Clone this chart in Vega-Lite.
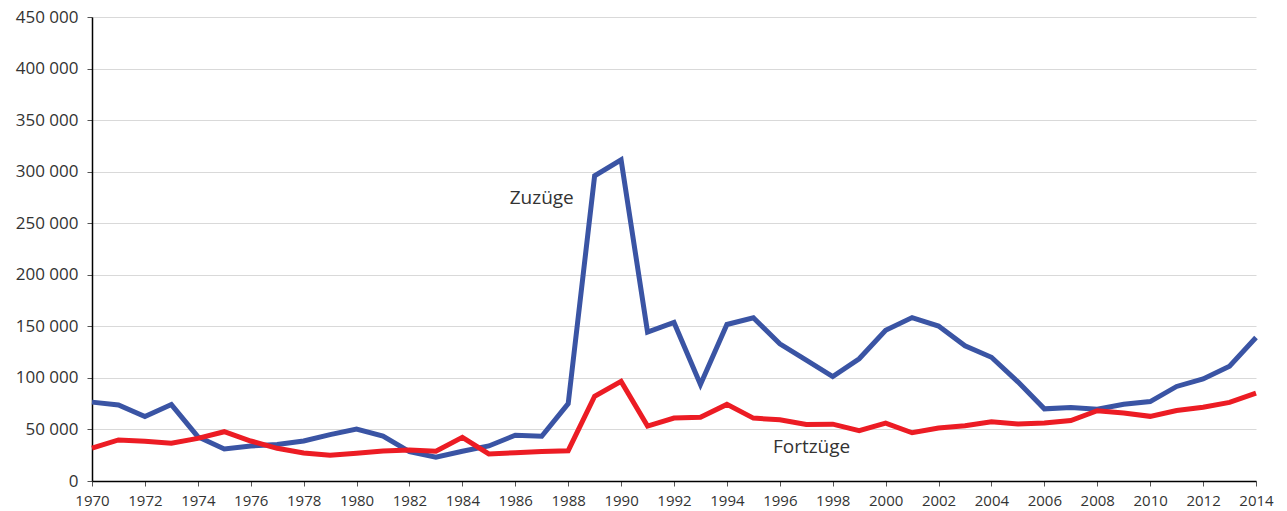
{
  "$schema": "https://vega.github.io/schema/vega-lite/v6.json",
  "autosize": "none",
  "width": 1164,
  "height": 464,
  "padding": {"left": 92, "top": 17, "right": 31, "bottom": 30},
  "background": "white",
  "config": {
    "view": {"stroke": null},
    "font": "Open Sans"
  },
  "datasets": {
    "series": [
      {"year":1970,"Zuzüge":76500,"Fortzüge":31800},
      {"year":1971,"Zuzüge":73800,"Fortzüge":39800},
      {"year":1972,"Zuzüge":62500,"Fortzüge":38600},
      {"year":1973,"Zuzüge":74100,"Fortzüge":36600},
      {"year":1974,"Zuzüge":43000,"Fortzüge":41300},
      {"year":1975,"Zuzüge":31000,"Fortzüge":47800},
      {"year":1976,"Zuzüge":34000,"Fortzüge":38800},
      {"year":1977,"Zuzüge":35300,"Fortzüge":31700},
      {"year":1978,"Zuzüge":38800,"Fortzüge":27200},
      {"year":1979,"Zuzüge":45000,"Fortzüge":24900},
      {"year":1980,"Zuzüge":50300,"Fortzüge":26900},
      {"year":1981,"Zuzüge":43600,"Fortzüge":29000},
      {"year":1982,"Zuzüge":28500,"Fortzüge":30100},
      {"year":1983,"Zuzüge":23100,"Fortzüge":28800},
      {"year":1984,"Zuzüge":28900,"Fortzüge":42300},
      {"year":1985,"Zuzüge":34000,"Fortzüge":26200},
      {"year":1986,"Zuzüge":44400,"Fortzüge":27500},
      {"year":1987,"Zuzüge":43400,"Fortzüge":28500},
      {"year":1988,"Zuzüge":75000,"Fortzüge":29400},
      {"year":1989,"Zuzüge":296000,"Fortzüge":82200},
      {"year":1990,"Zuzüge":311500,"Fortzüge":96600},
      {"year":1991,"Zuzüge":144300,"Fortzüge":53200},
      {"year":1992,"Zuzüge":153800,"Fortzüge":61000},
      {"year":1993,"Zuzüge":93700,"Fortzüge":61800},
      {"year":1994,"Zuzüge":151800,"Fortzüge":74300},
      {"year":1995,"Zuzüge":158300,"Fortzüge":61000},
      {"year":1996,"Zuzüge":133000,"Fortzüge":59400},
      {"year":1997,"Zuzüge":117300,"Fortzüge":54800},
      {"year":1998,"Zuzüge":101300,"Fortzüge":55100},
      {"year":1999,"Zuzüge":118500,"Fortzüge":48900},
      {"year":2000,"Zuzüge":146200,"Fortzüge":56200},
      {"year":2001,"Zuzüge":158500,"Fortzüge":46800},
      {"year":2002,"Zuzüge":150300,"Fortzüge":51300},
      {"year":2003,"Zuzüge":131200,"Fortzüge":53600},
      {"year":2004,"Zuzüge":120000,"Fortzüge":57500},
      {"year":2005,"Zuzüge":96200,"Fortzüge":55400},
      {"year":2006,"Zuzüge":70000,"Fortzüge":56300},
      {"year":2007,"Zuzüge":71300,"Fortzüge":58700},
      {"year":2008,"Zuzüge":69600,"Fortzüge":68200},
      {"year":2009,"Zuzüge":74400,"Fortzüge":66000},
      {"year":2010,"Zuzüge":77000,"Fortzüge":62700},
      {"year":2011,"Zuzüge":91700,"Fortzüge":68300},
      {"year":2012,"Zuzüge":99000,"Fortzüge":71600},
      {"year":2013,"Zuzüge":111400,"Fortzüge":76200},
      {"year":2014,"Zuzüge":139200,"Fortzüge":85200}
    ],
    "labels": [
      {"year":1987,"value":269000,"label":"Zuzüge","series":"Zuzüge"},
      {"year":1997.2,"value":27500,"label":"Fortzüge","series":"Fortzüge"}
    ]
  },
  "layer": [
    {
      "data": {"name": "series"},
      "transform": [{"fold": ["Zuzüge", "Fortzüge"], "as": ["series", "value"]}],
      "mark": {"type": "line", "strokeWidth": 5, "strokeJoin": "miter", "strokeCap": "butt"},
      "encoding": {
        "x": {
          "field": "year", "type": "quantitative",
          "scale": {"domain": [1970, 2014], "nice": false, "zero": false},
          "axis": {
            "title": null,
            "values": [1970,1971,1972,1973,1974,1975,1976,1977,1978,1979,1980,1981,1982,1983,1984,1985,1986,1987,1988,1989,1990,1991,1992,1993,1994,1995,1996,1997,1998,1999,2000,2001,2002,2003,2004,2005,2006,2007,2008,2009,2010,2011,2012,2013,2014],
            "labelExpr": "datum.value % 2 == 0 ? format(datum.value, 'd') : ''",
            "labelOverlap": false,
            "labelFlush": false,
            "grid": false,
            "domainColor": "#000000",
            "domainWidth": 1.5,
            "tickColor": "#555555",
            "tickSize": 5,
            "tickWidth": 1,
            "labelFontSize": 15,
            "labelColor": "#333333",
            "labelPadding": 7
          }
        },
        "y": {
          "field": "value", "type": "quantitative",
          "scale": {"domain": [0, 450000], "nice": false},
          "axis": {
            "title": null,
            "values": [0,50000,100000,150000,200000,250000,300000,350000,400000,450000],
            "labelExpr": "replace(format(datum.value, ','), ',', ' ')",
            "grid": true,
            "gridColor": "#d9d9d9",
            "gridWidth": 1,
            "domainColor": "#000000",
            "domainWidth": 1.5,
            "tickColor": "#555555",
            "tickSize": 5,
            "labelFontSize": 17,
            "labelColor": "#333333",
            "labelPadding": 9
          }
        },
        "color": {
          "field": "series", "type": "nominal",
          "scale": {"domain": ["Zuzüge", "Fortzüge"], "range": ["#3A54A4", "#EC1C24"]},
          "legend": null
        }
      }
    },
    {
      "data": {"name": "labels"},
      "mark": {"type": "text", "align": "center", "baseline": "alphabetic", "fontSize": 19, "color": "#333333"},
      "encoding": {
        "x": {"field": "year", "type": "quantitative"},
        "y": {"field": "value", "type": "quantitative"},
        "text": {"field": "label"}
      }
    }
  ]
}
